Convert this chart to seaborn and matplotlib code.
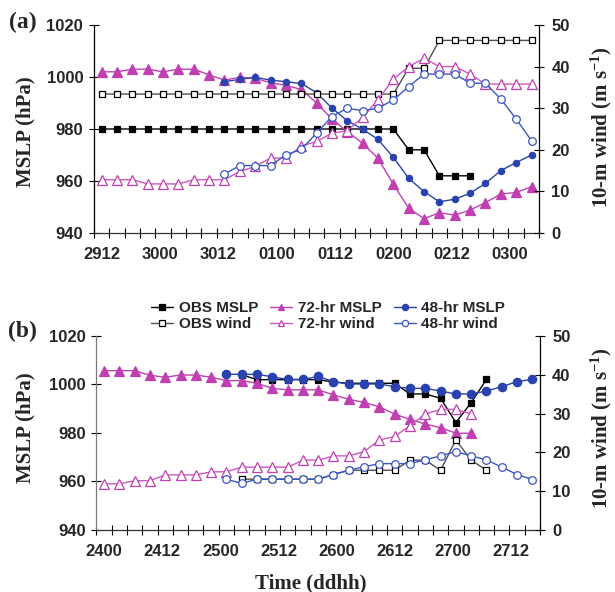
import numpy as np
import matplotlib
matplotlib.use("Agg")
import matplotlib.pyplot as plt
import seaborn as sns

# ---------------------------------------------------------------
# Data: 3-hourly series, index 0 = first time of each panel
# ---------------------------------------------------------------
N_STEPS = 29

# Panel (a)
labels_a = ["2912", "3000", "3012", "0100", "0112", "0200", "0212", "0300"]
obs_mslp_a = [980] * 20 + [972, 972, 962, 962, 962]                       # idx 0..24
obs_wind_a = [33.4] * 20 + [39.6, 39.6] + [46.3] * 7                       # idx 0..28
mslp72_a = [1002, 1002, 1003, 1003, 1002, 1003, 1003, 1000.8, 998.8, 999.9,
            999.5, 997.8, 996.8, 995.2, 990.0, 983.8, 979.0, 974.5, 968.7,
            958.7, 949.5, 945.5, 947.8, 946.9, 948.8, 951.7, 955.0, 955.6,
            957.8]                                                          # idx 0..28
wind72_a = [12.8, 12.8, 12.8, 11.8, 11.8, 11.8, 12.8, 12.8, 12.8, 14.8, 16.0,
            18.0, 18.0, 20.9, 22.0, 24.0, 24.6, 27.8, 32.0, 37.0, 40.0, 42.0,
            40.0, 40.0, 38.2, 35.8, 35.8, 35.8, 35.8]                       # idx 0..28
mslp48_a = [998.2, 999.1, 999.9, 998.8, 998.2, 997.5, 994.0, 988.0, 983.2,
            979.9, 976.0, 969.1, 961.0, 955.9, 952.0, 953.0, 955.3, 959.1,
            964.0, 967.1, 970.0]                                            # idx 8..28
wind48_a = [14.2, 16.2, 16.2, 16.2, 18.8, 20.1, 24.0, 28.0, 30.0, 29.4, 30.0,
            32.0, 35.2, 38.2, 38.2, 38.2, 36.0, 36.0, 32.2, 27.4, 22.2]     # idx 8..28

# Panel (b)
labels_b = ["2400", "2412", "2500", "2512", "2600", "2612", "2700", "2712"]
obs_mslp_b = [1004, 1002, 1002, 1002, 1002, 1002, 1001, 1000.5, 1000.5,
              1000.5, 1000.5, 996.1, 996.1, 994.3, 984.3, 992.5, 1002.1]    # idx 9..25
obs_wind_b = [13.1, 13.1, 13.1, 13.1, 13.1, 13.1, 14.3, 15.4, 15.4, 15.4,
              15.4, 18.0, 18.0, 15.4, 23.2, 18.0, 15.4]                     # idx 9..25
mslp72_b = [1005.7, 1005.7, 1005.7, 1003.8, 1003.0, 1003.9, 1003.9, 1003.0,
            1001.6, 1001.6, 1000.5, 998.4, 997.8, 997.8, 997.8, 995.7, 993.9,
            992.6, 990.8, 987.8, 985.6, 983.7, 982.2, 979.9, 979.9]         # idx 0..24
wind72_b = [11.9, 11.9, 12.7, 12.7, 14.2, 14.2, 14.2, 15.0, 15.0, 16.2, 16.2,
            16.2, 16.2, 18.0, 18.0, 19.1, 19.1, 20.2, 23.2, 24.1, 26.9, 29.9,
            31.1, 31.1, 29.9]                                               # idx 0..24
mslp48_b = [1004.2, 1004.2, 1004.2, 1003.2, 1002.1, 1002.1, 1003.3, 1001.2,
            1000.2, 1000.2, 1000.2, 999.1, 998.4, 998.4, 997.3, 996.1, 996.1,
            997.3, 999.1, 1001.2, 1002.1]                                   # idx 8..28
wind48_b = [13.1, 12.0, 13.1, 13.1, 13.1, 13.1, 13.1, 14.3, 15.4, 16.3, 17.1,
            17.1, 17.1, 18.1, 19.1, 20.2, 19.1, 18.1, 16.2, 14.3, 13.0]     # idx 8..28

# ---------------------------------------------------------------
# Style
# ---------------------------------------------------------------
sns.set_style("ticks")
plt.rcParams["font.family"] = ["Liberation Sans", "DejaVu Sans"]
plt.rcParams["font.weight"] = "bold"
plt.rcParams["mathtext.fontset"] = "custom"
plt.rcParams["mathtext.rm"] = "Liberation Serif:bold"
plt.rcParams["mathtext.it"] = "Liberation Serif:bold"
plt.rcParams["mathtext.bf"] = "Liberation Serif:bold"

SERIF = ["Liberation Serif", "DejaVu Serif"]
BLACK = "#000000"
GREY = "#505050"
MAG = "#c040b2"
MAG_L = "#cc58c0"
BLUE = "#2a42ad"
BLUE_L = "#3a58c4"
LABEL_STEP = 3.8

W, H = 615, 592
fig = plt.figure(figsize=(W / 100, H / 100), dpi=100)


def px_axes(left, right, top, bottom):
    return fig.add_axes([left / W, 1 - bottom / H, (right - left) / W, (bottom - top) / H])


def series(ax, start, values, color, marker, ms, mfc, mec, lw, label, z):
    x = np.arange(start, start + len(values))
    sns.lineplot(x=x, y=np.asarray(values, dtype=float), ax=ax, color=color,
                 marker=marker, markersize=ms, markerfacecolor=mfc,
                 markeredgecolor=mec, markeredgewidth=0.9, linewidth=1.0,
                 label=label, errorbar=None, zorder=z)


def panel(ax, labels, left_spine_color, data, sizes):
    ax2 = ax.twinx()
    (obs_m, obs_w, m72, w72, m48, w48) = data
    sq, tri, circ, ocirc = sizes

    series(ax, obs_m[0], obs_m[1], BLACK, "s", sq, BLACK, BLACK, 1.0, "OBS MSLP", 3)
    series(ax, m72[0], m72[1], MAG, "^", tri, MAG, MAG, 1.0, "72-hr MSLP", 4)
    series(ax, m48[0], m48[1], BLUE, "o", circ, BLUE, BLUE, 1.0, "48-hr MSLP", 5)
    series(ax2, obs_w[0], obs_w[1], GREY, "s", sq, "white", BLACK, 1.0, "OBS wind", 3)
    series(ax2, w72[0], w72[1], MAG_L, "^", tri, "white", MAG, 1.0, "72-hr wind", 4)
    series(ax2, w48[0], w48[1], BLUE_L, "o", ocirc, "white", BLUE_L, 1.0, "48-hr wind", 5)

    for a in (ax, ax2):
        if a.get_legend() is not None:
            a.get_legend().remove()
        a.set_xlabel("")
        a.set_ylabel("")

    ax.set_xlim(-0.5, N_STEPS - 0.5)
    ax.set_ylim(940, 1020)
    ax.set_yticks(np.arange(940, 1021, 20))
    ax2.set_ylim(0, 50)
    ax2.set_yticks(np.arange(0, 51, 10))

    ax.set_xticks(np.arange(len(labels)) * LABEL_STEP)
    ax.set_xticklabels(labels)
    ax.set_xticks(np.arange(-0.5, N_STEPS, 1.0), minor=True)
    ax.tick_params(axis="x", which="major", length=0, pad=10, labelsize=12)
    ax.tick_params(axis="x", which="minor", direction="inout", length=6.5,
                   width=0.8, color=BLACK)
    ax.tick_params(axis="y", which="major", direction="inout", length=6.5,
                   width=0.8, pad=4.5, labelsize=12, color=BLACK)
    ax2.tick_params(axis="y", which="major", direction="inout", length=6.5,
                    width=0.8, pad=5.5, labelsize=12, color=BLACK)
    ax.yaxis.set_minor_locator(matplotlib.ticker.NullLocator())
    ax2.yaxis.set_minor_locator(matplotlib.ticker.NullLocator())

    for a in (ax, ax2):
        a.spines["top"].set_visible(False)
        for s in a.spines.values():
            s.set_linewidth(0.9)
    ax.spines["right"].set_visible(False)
    ax2.spines["left"].set_visible(False)
    ax2.spines["bottom"].set_visible(False)
    ax.spines["left"].set_color(left_spine_color)
    ax.spines["bottom"].set_color("#333333")
    ax2.spines["right"].set_color(BLACK)
    for t in ax.get_xticklabels() + ax.get_yticklabels() + ax2.get_yticklabels():
        t.set_fontweight("bold")
    return ax2


# Panel (a)
ax_a = px_axes(94, 539.2, 25, 233)
panel(ax_a, labels_a, BLACK,
      ((0, obs_mslp_a), (0, obs_wind_a), (0, mslp72_a), (0, wind72_a),
       (8, mslp48_a), (8, wind48_a)),
      (4.0, 6.5, 4.5, 5.5))

# Panel (b)
ax_b = px_axes(96.4, 540.0, 336, 530)
ax_b2 = panel(ax_b, labels_b, "#7a7a7a",
              ((9, obs_mslp_b), (9, obs_wind_b), (0, mslp72_b), (0, wind72_b),
               (8, mslp48_b), (8, wind48_b)),
              (4.0, 7.0, 6.0, 5.5))

# Shared legend between the panels
h1, l1 = ax_b.get_legend_handles_labels()
h2, l2 = ax_b2.get_legend_handles_labels()
hd = dict(zip(l1 + l2, h1 + h2))
order = ["OBS MSLP", "OBS wind", "72-hr MSLP", "72-hr wind", "48-hr MSLP", "48-hr wind"]
leg = fig.legend([hd[k] for k in order], order, ncol=3, loc="center",
                 bbox_to_anchor=(328 / W, 1 - 316 / H), frameon=False,
                 prop={"family": ["Liberation Sans"], "weight": "bold", "size": 11},
                 handlelength=1.45, handletextpad=0.35, columnspacing=0.8,
                 labelspacing=0.15, borderpad=0.1)
for line in leg.get_lines():
    line.set_markersize(4.5)

# Text: panel letters and axis titles
lab = dict(family=SERIF, weight="bold", fontsize=15)
fig.text(23 / W, 1 - 22 / H, "(a)", ha="center", va="center", family=SERIF,
         weight="bold", fontsize=17)
fig.text(22 / W, 1 - 331 / H, "(b)", ha="center", va="center", family=SERIF,
         weight="bold", fontsize=17)
fig.text(25 / W, 1 - 132 / H, "MSLP (hPa)", rotation=90, ha="center", va="center", **lab)
fig.text(601 / W, 1 - 127 / H, "10-m wind (m s$^{\\mathrm{-1}}$)", rotation=90,
         ha="center", va="center", **lab)
fig.text(25 / W, 1 - 428 / H, "MSLP (hPa)", rotation=90, ha="center", va="center", **lab)
fig.text(601 / W, 1 - 428 / H, "10-m wind (m s$^{\\mathrm{-1}}$)", rotation=90,
         ha="center", va="center", **lab)
fig.text(311 / W, 1 - 583 / H, "Time (ddhh)", ha="center", va="center", **lab)

fig.savefig("out.png", dpi=100, facecolor="white")
